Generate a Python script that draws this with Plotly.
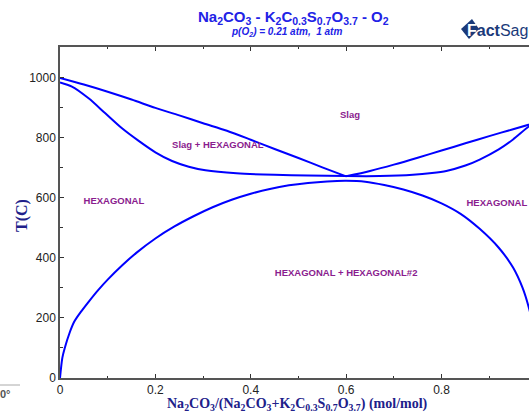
import plotly.graph_objects as go

# ---------------- data ----------------
liq_left_x = [0, 0.05, 0.1, 0.15, 0.2, 0.25, 0.3, 0.35, 0.4, 0.45, 0.5, 0.55, 0.6]
liq_left_T = [1000, 978, 954, 928, 900, 875, 849, 824, 794, 763, 733, 702, 672]
liq_right_x = [0.6, 0.65, 0.7, 0.75, 0.8, 0.85, 0.9, 0.95, 1.0]
liq_right_T = [672, 690, 711, 734, 758, 782, 806, 829, 852]

sol_x = [0, 0.025, 0.06, 0.095, 0.13, 0.165, 0.2, 0.235, 0.27, 0.305, 0.37,
         0.45, 0.52, 0.6, 0.67, 0.74, 0.78, 0.81, 0.85, 0.88, 0.92, 0.95, 0.983, 1.0]
sol_T = [985, 971, 932, 882, 832, 790, 752, 723, 704, 692, 682,
         677, 675, 673, 673, 677, 683, 690, 708, 728, 762, 795, 838, 855]

gap_x = [0, 0.005, 0.01, 0.02, 0.03, 0.045, 0.06, 0.08, 0.1, 0.13, 0.16, 0.2,
         0.24, 0.28, 0.32, 0.36, 0.4, 0.44, 0.48, 0.52, 0.56, 0.6, 0.64, 0.68,
         0.72, 0.76, 0.8, 0.84, 0.88, 0.92, 0.95, 0.97, 0.983, 1.0]
gap_T = [0, 68, 100, 150, 188, 223, 254, 293, 328, 375, 417, 465,
         505, 539, 569, 594, 614, 630, 642, 650, 655, 657, 654, 643,
         628, 608, 582, 547, 497, 434, 368, 300, 235, 120]

region_labels = ["Slag", "Slag + HEXAGONAL", "HEXAGONAL", "HEXAGONAL",
                 "HEXAGONAL + HEXAGONAL#2"]
region_x = [0.608, 0.331, 0.113, 0.916, 0.600]
region_T = [873, 773, 587, 580, 347]

x_ticks = [0, 0.2, 0.4, 0.6, 0.8]
x_ticktext = ["0", "0.2", "0.4", "0.6", "0.8"]
y_ticks = [0, 200, 400, 600, 800, 1000]

# ---------------- layout helpers ----------------
W, H = 529, 415
L, T_, B = 60, 47, 378
R = 529
def px_x(px):
    return (px - L) / (R - L)
def px_y(py):
    return (B - py) / (B - T_)

LINE = "#0000FF"
PURPLE = "#8a1c8e"
NAVY = "#20208a"
TBLUE = "#2222e6"

fig = go.Figure()
for xs, ys in [(liq_left_x, liq_left_T), (liq_right_x, liq_right_T),
               (sol_x, sol_T), (gap_x, gap_T)]:
    fig.add_trace(go.Scatter(x=xs, y=ys, mode="lines",
                             line=dict(color=LINE, width=2, shape="spline", smoothing=0.8),
                             hoverinfo="skip", showlegend=False))

fig.add_trace(go.Scatter(x=region_x, y=region_T, mode="text", text=region_labels,
                         textfont=dict(family="Arial", size=9.5, color=PURPLE),
                         texttemplate="<b>%{text}</b>",
                         hoverinfo="skip", showlegend=False))

fig.update_layout(
    width=W, height=H,
    margin=dict(l=L, r=W - R, t=T_, b=H - B),
    paper_bgcolor="white", plot_bgcolor="white",
    showlegend=False,
    xaxis=dict(range=[0, (R - 60.4) / 476.5], showgrid=False, zeroline=False,
               showline=True, linecolor="#555555", linewidth=1.5, mirror="ticks",
               ticks="inside", ticklen=4, tickwidth=1.2, tickcolor="#333333",
               tickvals=x_ticks, ticktext=x_ticktext,
               minor=dict(ticks="inside", ticklen=2, dtick=0.1, tick0=0,
                          tickcolor="#333333"),
               tickfont=dict(family="Arial", size=12, color="#222222"),
               automargin=False),
    yaxis=dict(range=[0, 1103], showgrid=False, zeroline=False,
               showline=True, linecolor="#555555", linewidth=1.5, mirror=False,
               ticks="inside", ticklen=4, tickwidth=1.2, tickcolor="#333333",
               tickvals=y_ticks,
               minor=dict(ticks="inside", ticklen=3, dtick=100, tick0=0,
                          tickcolor="#333333"),
               tickfont=dict(family="Arial", size=12, color="#222222"),
               automargin=False),
)

def note(px, py, text, font, xanchor="center", **kw):
    return dict(x=px_x(px), y=px_y(py), xref="paper", yref="paper",
                xanchor=xanchor, yanchor="middle", text=text, showarrow=False,
                font=font, **kw)

ann = []
ann.append(note(293, 18,
                "<b>Na<sub>2</sub>CO<sub>3</sub> - K<sub>2</sub>C<sub>0.3</sub>S<sub>0.7</sub>O<sub>3.7</sub> - O<sub>2</sub></b>",
                dict(family="Arial", size=15, color=TBLUE)))
ann.append(note(286, 32, "<b><i>p(O<sub>2</sub>) = 0.21 atm,  1 atm</i></b>",
                dict(family="Arial", size=10, color=TBLUE)))
ann.append(note(297, 404,
                "<b>Na<sub>2</sub>CO<sub>3</sub>/(Na<sub>2</sub>CO<sub>3</sub>+K<sub>2</sub>C<sub>0.3</sub>S<sub>0.7</sub>O<sub>3.7</sub>) (mol/mol)</b>",
                dict(family="Liberation Serif", size=14, color=NAVY)))
ann.append(note(22, 216, "<b>T(C)</b>",
                dict(family="Liberation Serif", size=16, color=NAVY), textangle=-90))
# FactSage logo
ann.append(note(465, 30, "<b><span style='color:white'>F</span>act</b>Sage",
                dict(family="Arial", size=16, color="#1b3a7a"), xanchor="left"))
# page artifacts at bottom-left
ann.append(note(-2, 394, "<b>0°</b>",
                dict(family="Arial", size=11, color="#555555"), xanchor="left"))
fig.update_layout(annotations=ann)

fig.add_shape(type="path", xref="paper", yref="paper",
              path=f"M {px_x(461)} {px_y(29)} L {px_x(472)} {px_y(19)} L {px_x(479)} {px_y(29)} L {px_x(469)} {px_y(39)} Z",
              fillcolor="#1b3a7a", line=dict(width=0), layer="below")
fig.add_shape(type="line", xref="paper", yref="paper",
              x0=px_x(0), x1=px_x(20), y0=px_y(385), y1=px_y(385),
              line=dict(color="#aaaaaa", width=1))

fig.write_html("out.html")
